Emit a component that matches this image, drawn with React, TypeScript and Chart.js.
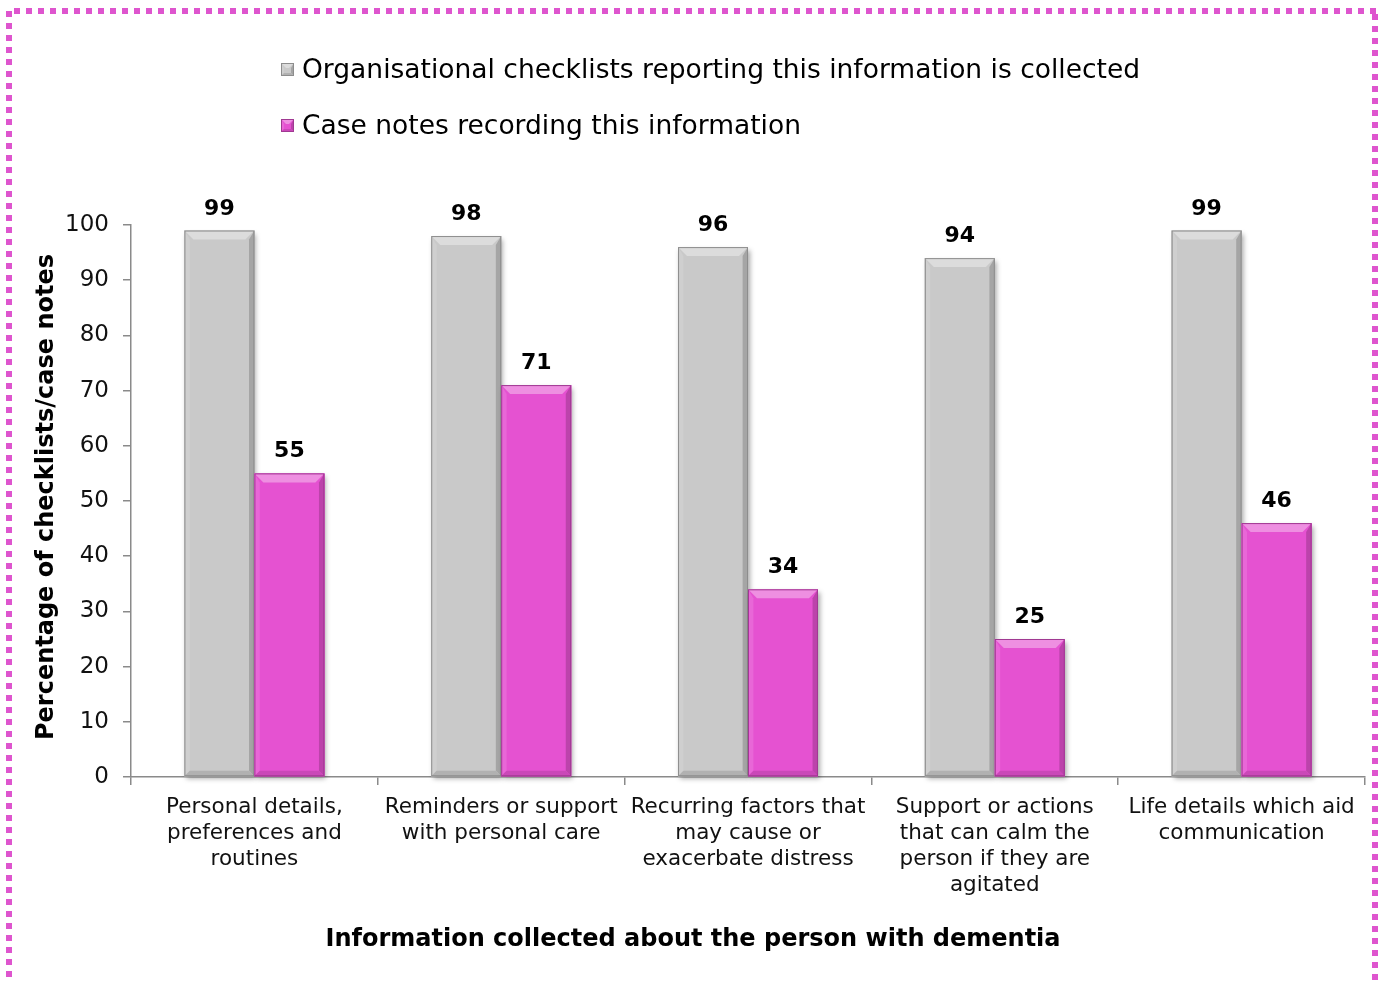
import React, { useEffect, useRef } from "react";
import { Chart, registerables } from "chart.js";

Chart.register(...registerables);

const categories: string[][] = [
  ["Personal details,", "preferences and", "routines"],
  ["Reminders or support", "with personal care"],
  ["Recurring factors that", "may cause or", "exacerbate distress"],
  ["Support or actions", "that can calm the", "person if they are", "agitated"],
  ["Life details which aid", "communication"],
];
const checklistValues = [99, 98, 96, 94, 99];
const caseNoteValues = [55, 71, 34, 25, 46];
const seriesNames = [
  "Organisational checklists reporting this information is collected",
  "Case notes recording this information",
];
const yTitle = "Percentage of checklists/case notes";
const xTitle = "Information collected about the person with dementia";

const GRAY = "#C9C9C9";
const PINK = "#E552D1";
const FONT = "'DejaVu Sans', Verdana, sans-serif";

function shade(hex: string, amt: number): string {
  const n = parseInt(hex.slice(1), 16);
  let r = (n >> 16) & 255, g = (n >> 8) & 255, b = n & 255;
  const f = (c: number) => Math.max(0, Math.min(255, Math.round(amt >= 0 ? c + (255 - c) * amt : c * (1 + amt))));
  return `rgb(${f(r)},${f(g)},${f(b)})`;
}

function drawBevelRect(ctx: CanvasRenderingContext2D, l: number, t: number, r: number, bt: number, color: string, bv: number) {
  ctx.fillStyle = color;
  ctx.fillRect(l, t, r - l, bt - t);
  const sb = Math.min(bv, (r - l) / 2, (bt - t) / 2);
  ctx.fillStyle = shade(color, 0.35);
  ctx.beginPath();
  ctx.moveTo(l, t); ctx.lineTo(r, t); ctx.lineTo(r - sb, t + sb); ctx.lineTo(l + sb, t + sb); ctx.closePath(); ctx.fill();
  ctx.fillStyle = shade(color, 0.12);
  ctx.beginPath();
  ctx.moveTo(l, t); ctx.lineTo(l + sb * 0.6, t + sb); ctx.lineTo(l + sb * 0.6, bt - sb * 0.6); ctx.lineTo(l, bt); ctx.closePath(); ctx.fill();
  ctx.fillStyle = shade(color, -0.18);
  ctx.beginPath();
  ctx.moveTo(r, t); ctx.lineTo(r - sb * 0.6, t + sb); ctx.lineTo(r - sb * 0.6, bt - sb * 0.6); ctx.lineTo(r, bt); ctx.closePath(); ctx.fill();
  ctx.fillStyle = shade(color, -0.12);
  ctx.beginPath();
  ctx.moveTo(l, bt); ctx.lineTo(l + sb * 0.6, bt - sb * 0.6); ctx.lineTo(r - sb * 0.6, bt - sb * 0.6); ctx.lineTo(r, bt); ctx.closePath(); ctx.fill();
  ctx.strokeStyle = shade(color, -0.3);
  ctx.lineWidth = 1;
  ctx.strokeRect(l + 0.5, t + 0.5, r - l - 1, bt - t - 1);
}

const decorPlugin = {
  id: "decor",
  beforeDraw(chart: any) {
    const ctx = chart.ctx as CanvasRenderingContext2D;
    ctx.save();
    ctx.fillStyle = "#ffffff";
    ctx.fillRect(0, 0, chart.width, chart.height);
    ctx.strokeStyle = "#DE55CE";
    ctx.lineWidth = 6;
    ctx.setLineDash([6, 6]);
    ctx.beginPath();
    ctx.moveTo(14, 11); ctx.lineTo(1378, 11);
    ctx.stroke();
    ctx.beginPath();
    ctx.moveTo(9, 11); ctx.lineTo(9, 990);
    ctx.stroke();
    ctx.beginPath();
    ctx.moveTo(1375, 14); ctx.lineTo(1375, 990);
    ctx.stroke();
    ctx.restore();
  },
  afterDraw(chart: any) {
    const ctx = chart.ctx as CanvasRenderingContext2D;
    ctx.save();
    const colors = [GRAY, PINK];
    const ys = [70, 126];
    ctx.font = `26.5px ${FONT}`;
    ctx.textBaseline = "middle";
    ctx.textAlign = "left";
    seriesNames.forEach((name, i) => {
      drawBevelRect(ctx, 281, ys[i] - 7, 294, ys[i] + 6, colors[i], 5);
      ctx.fillStyle = "#000";
      ctx.fillText(name, 302, ys[i] + 1);
    });
    ctx.font = `bold 24px ${FONT}`;
    ctx.textAlign = "center";
    ctx.fillStyle = "#000";
    ctx.fillText(xTitle, 693, 940);
    ctx.translate(47, 497);
    ctx.rotate(-Math.PI / 2);
    ctx.fillText(yTitle, 0, 0);
    ctx.restore();
  },
  afterDatasetsDraw(chart: any) {
    const ctx = chart.ctx as CanvasRenderingContext2D;
    ctx.save();
    chart.data.datasets.forEach((ds: any, di: number) => {
      const meta = chart.getDatasetMeta(di);
      meta.data.forEach((bar: any, i: number) => {
        const half = bar.width / 2;
        const l = bar.x - half, r = bar.x + half;
        ctx.save();
        ctx.shadowColor = "rgba(0,0,0,0.35)";
        ctx.shadowBlur = 5;
        ctx.shadowOffsetX = 2;
        ctx.shadowOffsetY = 3;
        ctx.fillStyle = ds.backgroundColor;
        ctx.fillRect(l, bar.y, r - l, bar.base - bar.y);
        ctx.restore();
        drawBevelRect(ctx, l, bar.y, r, bar.base, ds.backgroundColor, 9);
        ctx.fillStyle = "#000";
        ctx.font = `bold 22px ${FONT}`;
        ctx.textAlign = "center";
        ctx.textBaseline = "alphabetic";
        ctx.fillText(String(ds.data[i]), bar.x, bar.y - 16);
      });
    });
    ctx.restore();
  },
};

export default function App() {
  const ref = useRef<HTMLCanvasElement | null>(null);
  useEffect(() => {
    if (!ref.current) return;
    const chart = new Chart(ref.current, {
      type: "bar",
      data: {
        labels: categories,
        datasets: [
          { label: seriesNames[0], data: checklistValues, backgroundColor: GRAY, borderWidth: 0 },
          { label: seriesNames[1], data: caseNoteValues, backgroundColor: PINK, borderWidth: 0 },
        ],
      },
      options: {
        animation: false,
        responsive: false,
        maintainAspectRatio: false,
        layout: { padding: { top: 225, right: 16, left: 0, bottom: 0 } },
        datasets: { bar: { categoryPercentage: 0.567, barPercentage: 1.0 } },
        plugins: { legend: { display: false }, tooltip: { enabled: false } },
        scales: {
          x: {
            afterFit: (s: any) => { s.height = 206; },
            grid: { drawOnChartArea: false, drawTicks: true, tickLength: 8, color: "#8a8a8a", lineWidth: 1.5 },
            border: { color: "#8a8a8a", width: 1.5 },
            ticks: { color: "#111", font: { family: FONT, size: 21.5, lineHeight: 1.21 }, padding: 9, maxRotation: 0, autoSkip: false },
          },
          y: {
            min: 0,
            max: 100,
            afterFit: (s: any) => { s.width = 131; },
            grid: { drawOnChartArea: false, drawTicks: true, tickLength: 8, color: "#8a8a8a", lineWidth: 1.5 },
            border: { color: "#8a8a8a", width: 1.5 },
            ticks: { stepSize: 10, color: "#111", font: { family: FONT, size: 23 }, padding: 14 },
          },
        },
      },
      plugins: [decorPlugin],
    } as any);
    return () => chart.destroy();
  }, []);
  return (
    <div style={{ position: "fixed", left: 0, top: 0, width: 1381, height: 983, overflow: "hidden" }}>
      <canvas ref={ref} width={1381} height={983} style={{ display: "block" }} />
    </div>
  );
}
